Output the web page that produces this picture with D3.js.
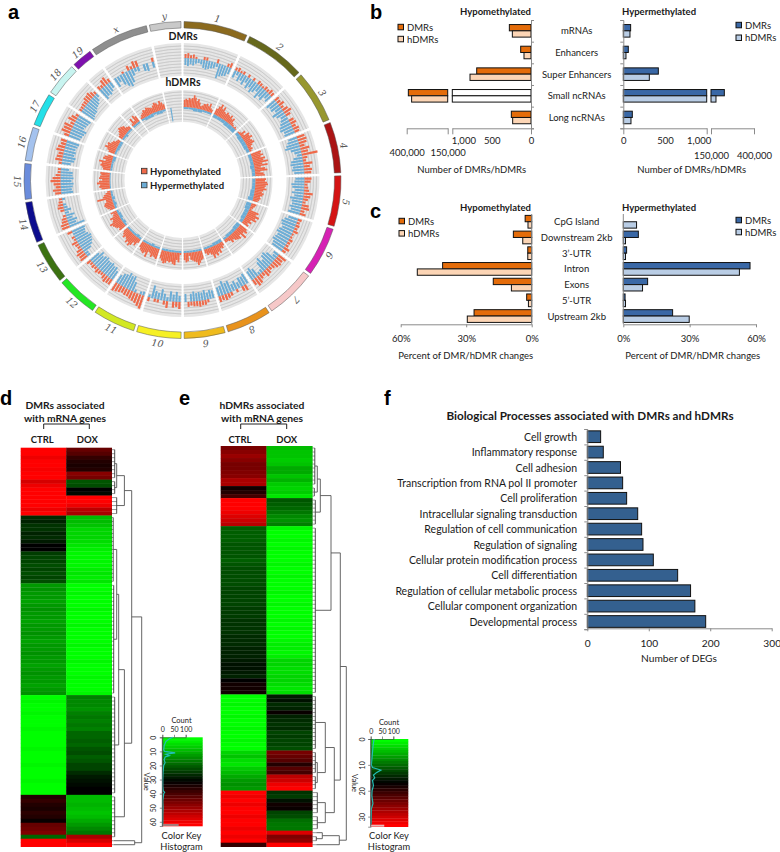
<!DOCTYPE html>
<html><head><meta charset="utf-8">
<style>
html,body{margin:0;padding:0;background:#fff}
svg{display:block}
text{font-family:Lato,"Open Sans",sans-serif;fill:#1a1a1a}
.panel{font-family:"Liberation Sans",Arial,sans-serif;font-weight:700;font-size:20px;fill:#000}
</style>
<script src="https://cdn.jsdelivr.net/npm/d3@7"></script>
</head><body><svg id="c" width="780" height="852"></svg>
<script>
// ---------- panel a data ----------
const chromNames=["1","2","3","4","5","6","7","8","9","10","11","12","13","14","15","16","17","18","19","x","y"];
const chromSpan=[23.4,22.2,19.2,18.6,18.5,18,18.5,16.4,15,16.3,15.5,15,15,15,13,12.3,12,12,7.5,21.4,11.5];
const chromColor=["#8b6a1e","#66681c","#97972f","#ab1414","#d41414","#d622b4","#f6c8c8","#e8921c","#efbb1c","#f6f024","#d2e824","#24e624","#3c7212","#0c0c8e","#6a8cdc","#a4c2ee","#24e0e8","#c8f4f0","#7e12ae","#8f8f8f","#c9c9c9"];
const dmrHypo=[
[4,5,3,4,2,0,0,3,3,0,0,0,4,0,0,0,3,5],[3,4,2,3,0,3,0,3,0,4,3,2,4,3,5,4],[5,4,6,3,6,8,5,0,5,6,4,6,5],
[8,9,8,5,9,7,16,5,3,9,6,8,7],[7,6,3,4,5,9,7,5,3,7,8,4,6],[4,3,4,3,5,2,2,4,3,3,6,4],
[9,7,8,7,5,4,6,7,4,5,8,9,6],[0,6,5,0,3,0,4,5,6,5,6],[0,0,3,5,5,6,5,5,4,5,0],
[7,5,6,0,7,4,0,3,3,0,4],[14,12,10,9,8,7,7,6,7,8,9],[6,6,7,5,3,4,5,3,4,3,5],
[8,7,8,6,3,4,6,2,3,0,5],[8,8,6,5,3,0,4,6,5,4,3],[6,8,5,7,10,8,5,3,3],
[3,7,6,5,8,7,5,6],[5,9,8,9,4,8,6,3],[3,3,4,4,6,6,7,5,3],[4,3,7,8,4],
[0,0,0,2,0,5,3,7,6,0,0,0,0,4],[]];
const dmrHyper=[
[7,8,6,7,5,4,5,8,9,8,7,6,4,15,12,11,10,7],[8,4,9,7,10,6,11,8,12,10,7,13,9,11,6,8],[11,9,10,7,12,9,6,8,10,12,13,10,11],
[9,11,13,15,10,7,5,9,12,13,11,12,10],[9,10,13,12,9,12,9,13,11,10,12,10,12],[10,13,15,14,12,14,15,13,14,15,13,12],
[6,5,11,14,13,9,14,11,4,3,9,12,10],[11,9,10,6,9,7,12,11,14,10,9],[8,9,7,10,8,9,8,10,8,0,8],
[6,10,7,10,4,7,11,7,8,13,3],[4,3,0,3,10,15,14,16,13,12,9],[10,13,12,14,13,13,15,14,12,15,11],
[4,4,9,12,14,15,16,14,12,13,14],[16,8,10,6,9,4,7,4,3,0,3],[12,11,12,13,11,13,12,12,8],
[9,12,13,11,12,11,12,13],[12,13,14,15,11,12,13,14],[15,14,13,13,11,10,9,7,4],[12,10,11,9,7],
[10,6,11,14,16,13,7,4,5,0,7,8,0,6],[]];
const hdmrHypo=[
[7,8,7,9,8,9,12,10,7,9,6,3,4,6,6,7,5,8,4,3],[6,9,12,8,11,7,6,8,7,6,8,5,7,3,2,1,2,1],[1,2,6,3,8,7,9,6,7,8,5,3,4,2],
[10,9,11,8,12,10,14,8,13,6,10,12,5,8,9],[10,9,11,12,10,9,11,8,7,9,8,6,7,6,5],[5,4,3,2,10,8,12,9,11,6,8,5,7],
[8,10,7,12,6,9,8,7,5,7,4,3,3],[4,6,5,9,7,10,8,11,7,5,6,4],[8,9,11,13,10,9,8,7,3,8,9,7],
[2,9,7,12,11,9,10,9,11,12,10,8],[10,9,8,10,7,6,12,8,10,9,8,6],[4,8,6,10,12,9,11,8,7,9,7,5],
[7,6,8,9,10,12,8,7,9,5,4,6],[5,7,8,9,8,6,6,14,8,7,5,3],[8,10,9,12,10,7,10,9,8,9],
[7,8,10,9,12,6,9,8,5],[6,8,11,9,10,7,6,4,3],[4,5,7,9,8,7,4,3],[2,7,3,8,6],
[2,4,5,7,6,8,7,6,5,7,9,8,6,9,7,5],[]];
const hdmrHyper=[
[2,2,3,3,2,2],[3,3,3,4,4,4],[3,4,4,4,4,3],[3,3,3,4,3,3],[3,3,3,4,4,5],[5,5,4,4,4,3],
[4,4,3,3,3,2],[3,3,3,2,2,2],[2,2,2,2,2,2],[2,2,2,2,2,2],[2,2,3,2,2,2],[2,3,2,2,2,2],
[2,3,2,3,3,2],[2,3,2,3,2,2],[1,1,1,1,1,1],[2,2,2,2,3,3],[2,2,3,3,3,3],[2,2,3,2,2,2],[2,2,2],
[2,3,3,3,2,3,3,2],[0,0,13,0,0,0,0,0,0,0,0]];
const legendA=["Hypomethylated","Hypermethylated"];
// ---------- panel b data ----------
const bCats=["mRNAs","Enhancers","Super Enhancers","Small ncRNAs","Long ncRNAs"];
const bHypoDMR=[275,131,690,390000,250];
const bHypoH=[237,89,775,370000,233];
const bHyperDMR=[88,60,420,227500,108];
const bHyperH=[80,32,312,179000,92];
// ---------- panel c data ----------
const cCats=["CpG Island","Downstream 2kb","3’-UTR","Intron","Exons","5’-UTR","Upstream 2kb"];
const cHypoDMR=[3,8.4,1.8,40.8,17.6,2.3,26.4];
const cHypoH=[1.7,4.1,1.8,52.4,9.3,1.5,29.5];
const cHyperDMR=[0,6.8,1.5,57.3,11,0.8,22.3];
const cHyperH=[6,1,1,52.5,8.7,1,29.8];
// ---------- panel d/e data (row values on the colour-key value scale, 0 green, 30 black, 60 red) ----------
const dCtrl=[60,60,58,60,60,59,60,60,55,58,60,60,60,60,60,58,60,
25,26,24,24,26,25,27,30,30,23,22,22,21,22,21,22,21,
12,13,12,12,11,12,13,12,12,11,12,12,13,12,11,12,12,13,12,12,11,12,13,12,12,11,12,13,
0,1,0,0,1,0,0,0,1,0,0,0,0,1,0,0,0,1,0,0,0,1,0,0,0,
34,36,34,33,35,34,31,42,43,45,18,60,60];
const dDox=[42,40,36,34,33,34,46,44,20,21,30,29,60,60,58,52,50,
8,8,7,5,5,5,4,3,2,1,1,1,1,2,3,2,3,
0,0,1,0,0,0,1,0,0,0,1,0,0,0,0,1,0,0,0,1,0,0,0,1,0,0,0,1,
15,14,14,13,15,16,15,16,15,18,18,19,18,20,21,19,20,22,22,25,27,28,29,30,30,
8,8,9,8,7,8,10,12,14,16,50,55,60];
const eCtrl=[44,46,48,46,44,44,45,46,50,50,32,34,38,60,60,60,58,56,54,52,
19,19,19,19,20,20,20,20,19,20,21,21,21,21,21,22,22,22,22,22,23,23,23,24,24,24,24,25,25,25,26,26,26,
27,28,28,27,26,30,32,32,32,
0,0,1,0,0,1,0,0,1,0,0,1,0,0,5,7,4,3,6,8,10,12,13,12,
60,58,60,58,60,60,58,60,60,58,60,58,60,36];
const eDox=[8,7,7,6,7,10,10,7,9,6,5,6,3,20,19,18,16,14,13,15,
1,0,0,1,0,1,0,0,0,1,0,0,1,0,0,0,1,0,0,1,0,0,0,1,0,1,0,0,1,2,2,1,2,
5,5,4,4,5,5,4,3,4,
27,28,25,26,31,26,25,24,25,22,23,22,22,21,44,42,40,34,40,38,52,54,58,60,
24,23,28,32,31,22,21,17,16,16,56,45,47,60];
const dTree={h:30,children:[
 {h:20,children:[
  {h:12.7,children:[{h:5,children:[{rows:[0,7],h:3},{rows:[8,11],h:3}]},{rows:[12,16],h:5}]},
  {h:12.7,children:[{h:7,children:[{h:5,children:[{rows:[17,33],h:1.5},{rows:[34,61],h:2}]},{rows:[62,86],h:3}]},{rows:[87,97],h:3}]}]},
 {h:23,children:[{rows:[98,98],h:2},{rows:[99,99],h:2}]}]};
const eTree={h:34,children:[
 {h:28,children:[
  {h:18.7,children:[{h:8,children:[{h:5,children:[{rows:[0,9],h:2.5},{rows:[10,12],h:2}]},{rows:[13,19],h:3}]},{rows:[20,61],h:3}]},
  {h:22,children:[{h:13,children:[{rows:[62,75],h:3},{h:5,children:[{rows:[76,81],h:3},{rows:[82,85],h:3}]}]},{h:13,children:[{rows:[86,91],h:5},{rows:[92,95],h:5}]}]}]},
 {h:27,children:[{h:10,children:[{rows:[96,96],h:4},{rows:[97,98],h:4}]},{rows:[99,99],h:4}]}]};
const dKeyTicks=[0,10,20,30,40,50,60];
const eKeyTicks=[0,10,20,30];
const countTicks=[0,50,100];
const dHistV=[0,1,3,6,9,10,11,12,13,14,16,18,20,25,30,35,38,39,40,45,50,55,60,63];
const dHistC=[45,30,15,8,6,10,55,15,30,12,8,12,6,3,2,2,4,10,6,2,3,2,2,1];
const eHistV=[0,3,5,8,10,11,12,13,14,15,16,18,20,22,25,27,30,33];
const eHistC=[15,10,8,5,3,8,45,25,12,18,8,12,6,5,10,3,2,1];
// ---------- panel f data ----------
const fCats=["Cell growth","Inflammatory response","Cell adhesion","Transcription from RNA pol II promoter","Cell proliferation","Intracellular signaling transduction","Regulation of cell communication","Regulation of signaling","Cellular protein modification process","Cell differentiation","Regulation of cellular metabolic process","Cellular component organization","Developmental process"];
const fVals=[21.7,26,54,57.5,64,82,88.4,90.6,107.4,147,168,175,192.6];

const ORANGE="#e46c0a",LORANGE="#fcd5b5",BLUE="#3a68a6",LBLUE="#b9cde5",RED="#ef6a4a",SKY="#6cadd6";
const svg=d3.select("#c");
const txt=(g,x,y,s,o={})=>{const t=g.append("text").attr("x",x).attr("y",y).text(s)
 .attr("font-size",o.size||9.5).attr("text-anchor",o.anchor||"middle").attr("dominant-baseline","central");
 if(o.bold)t.attr("font-weight",700); if(o.rot!==undefined)t.attr("transform",`rotate(${o.rot} ${x} ${y})`); if(o.fill)t.style("fill",o.fill);return t;};
const panelLabel=(s,x,y)=>svg.append("text").attr("class","panel").attr("x",x).attr("y",y).text(s);
panelLabel("a",8,19);panelLabel("b",370,19);panelLabel("c",370,218);panelLabel("d",0,405);panelLabel("e",179,405);panelLabel("f",384,405);

// ---------- panel a ----------
(function(){
 const g=svg.append("g").attr("transform","translate(182.5,180)");
 const rad=d=>d*Math.PI/180;
 const gap=(360-d3.sum(chromSpan))/chromSpan.length;
 let cur=gap/2;
 const chroms=chromSpan.map((s,i)=>{const c={i,a0:cur,a1:cur+s};cur+=s+gap;return c;});
 const arc=d3.arc();
 g.selectAll(".ideo").data(chroms).join("path").attr("d",c=>arc({innerRadius:152,outerRadius:158.5,startAngle:rad(c.a0),endAngle:rad(c.a1)}))
  .attr("fill",c=>chromColor[c.i]).attr("stroke","#555").attr("stroke-width",.5);
 chroms.forEach(c=>{const m=(c.a0+c.a1)/2,r=165,x=r*Math.sin(rad(m)),y=-r*Math.cos(rad(m));
  const rot=(m>=165&&m<280)?m-180:m;
  txt(g,x,y,chromNames[c.i],{size:9.5,rot,fill:"#555"}).style("font-family","'DejaVu Serif'").style("font-style","italic");});
 function ring(rIn,rOut,rBase,hypo,hyper,k,pad){
  const up=d3.scaleLinear([0,16],[rBase,rBase+16*k]),dn=d3.scaleLinear([0,16],[rBase,rBase-16*k]);
  chroms.forEach(c=>{
   const sec=g.append("g");
   sec.append("path").attr("d",arc({innerRadius:rIn,outerRadius:rOut,startAngle:rad(c.a0),endAngle:rad(c.a1)})).attr("fill","#e6e6e6");
   d3.range(rIn+3,rOut,3).forEach(r=>sec.append("path").attr("d",d3.arc()({innerRadius:r,outerRadius:r,startAngle:rad(c.a0),endAngle:rad(c.a1)})).attr("fill","none").attr("stroke","#c4c4c4").attr("stroke-width",.55));
   const draw=(vals,scale,col)=>{ if(!vals[c.i].length)return;
    const bx=d3.scaleBand(d3.range(vals[c.i].length),[c.a0+.4,c.a1-.4]).paddingInner(pad);
    vals[c.i].forEach((v,j)=>{ if(!v)return; const a=scale(0),b=scale(v);
     sec.append("path").attr("d",arc({innerRadius:Math.min(a,b),outerRadius:Math.max(a,b),startAngle:rad(bx(j)),endAngle:rad(bx(j)+bx.bandwidth())})).attr("fill",col);});};
   draw(hyper,dn,SKY);draw(hypo,up,RED);
  });
 }
 ring(104,137,122,dmrHypo,dmrHyper,1,.3);
 ring(58,90,73,hdmrHypo,hdmrHyper,1.05,0);
 txt(g,0.5,-144,"DMRs",{bold:true,size:10.5});
 txt(g,0.5,-98,"hDMRs",{bold:true,size:10.5});
 legendA.forEach((s,i)=>{const y=-9+i*14;
  g.append("rect").attr("x",-41).attr("y",y-2.7).attr("width",5.5).attr("height",5.5).attr("fill",i?SKY:RED).attr("stroke","#333").attr("stroke-width",.8);
  txt(g,-32.5,y,s,{bold:true,anchor:"start",size:9.5});});
})();

function styleAxis(a){a.selectAll("path,line").attr("stroke","#8a8a8a").attr("stroke-width",1);a.selectAll("text").attr("font-size",9.5).style("font-family","Lato");}
function bar(g,x0,x1,y,h,fill){ if(x0===x1)return;
 g.append("rect").attr("x",Math.min(x0,x1)).attr("width",Math.abs(x1-x0)).attr("y",y).attr("height",h).attr("fill",fill).attr("stroke","#111").attr("stroke-width",1);}
function legend(x,ys,cols){["DMRs","hDMRs"].forEach((s,i)=>{
 svg.append("rect").attr("x",x).attr("y",ys[i]-2.7).attr("width",5.5).attr("height",5.5).attr("fill",cols[i]).attr("stroke","#111");
 txt(svg,x+9,ys[i],s,{anchor:"start"});});}
const sub=["DMR","hDMR"];

// ---------- panel b ----------
(function(){
 const y=d3.scaleBand(bCats,[20,128.3]).paddingInner(.42).paddingOuter(.21);
 const s=d3.scaleBand(sub,[0,y.bandwidth()]);
 const lLow=d3.scaleLinear([0,1000],[531,452.3]),lHigh=d3.scaleLinear([150000,400000],[447.7,406.7]);
 const rLow=d3.scaleLinear([0,1000],[623.3,706.7]),rHigh=d3.scaleLinear([150000,400000],[711,754]);
 const draw=(vals,low,high,key,col,mid)=>vals.forEach((v,i)=>{const yy=y(bCats[i])+s(key);
  if(v<=1000)bar(svg,low(0),low(v),yy,s.bandwidth(),col);
  else{bar(svg,low(0),low(1000),yy,s.bandwidth(),mid);bar(svg,high(150000),high(v),yy,s.bandwidth(),col);}});
 draw(bHypoDMR,lLow,lHigh,"DMR",ORANGE,"#fff");draw(bHypoH,lLow,lHigh,"hDMR",LORANGE,"#fff");
 draw(bHyperDMR,rLow,rHigh,"DMR",BLUE,BLUE);draw(bHyperH,rLow,rHigh,"hDMR",LBLUE,LBLUE);
 bCats.forEach(c=>txt(svg,576.7,y(c)+y.bandwidth()/2,c));
 const cat=d3.scaleLinear([0,bCats.length],[20,128.3]);
 styleAxis(svg.append("g").attr("transform","translate(531,0)").call(d3.axisRight(cat).ticks(5).tickSize(3).tickFormat("")));
 styleAxis(svg.append("g").attr("transform","translate(623.3,0)").call(d3.axisLeft(cat).ticks(5).tickSize(3).tickFormat("")));
 const ax=(scale,vals,dx,yAxis)=>{const a=svg.append("g").attr("transform","translate(0,128.3)").call(d3.axisBottom(scale).tickValues(vals).tickSize(6).tickSizeOuter(0).tickFormat(d3.format(",")));
  styleAxis(a);a.selectAll(".tick text").attr("dy",null).attr("dominant-baseline","central").attr("y",yAxis).attr("dx",(d,i)=>dx[i]);
  a.selectAll(".tick").filter(d=>d===500).select("line").remove();};
 ax(lLow,[0,500,1000],[0,0,11],12.5);ax(lHigh,[150000,400000],[0,0],24.7);
 ax(rLow,[0,500,1000],[0,0,-8],12.5);ax(rHigh,[150000,400000],[0,0],27.7);
 txt(svg,495.5,11,"Hypomethylated",{bold:true});txt(svg,659,11,"Hypermethylated",{bold:true});
 txt(svg,471.7,169,"Number of DMRs/hDMRs");txt(svg,691.7,169,"Number of DMRs/hDMRs");
 legend(398,[27,39],[ORANGE,LORANGE]);legend(736,[25,37.7],[BLUE,LBLUE]);
})();

// ---------- panel c ----------
(function(){
 const y=d3.scaleBand(cCats,[213.9,323.9]).paddingInner(.19).paddingOuter(.095);
 const s=d3.scaleBand(sub,[0,y.bandwidth()]);
 const l=d3.scaleLinear([0,60],[531.7,400.7]),r=d3.scaleLinear([0,60],[623.3,756]);
 const draw=(vals,sc,key,col)=>vals.forEach((v,i)=>bar(svg,sc(0),sc(v),y(cCats[i])+s(key),s.bandwidth(),col));
 draw(cHypoDMR,l,"DMR",ORANGE);draw(cHypoH,l,"hDMR",LORANGE);draw(cHyperDMR,r,"DMR",BLUE);draw(cHyperH,r,"hDMR",LBLUE);
 cCats.forEach(c=>txt(svg,576.7,y(c)+y.bandwidth()/2,c));
 [[l,531.7],[r,623.3]].forEach(([sc,x])=>{
  const a=svg.append("g").attr("transform","translate(0,324.3)").call(d3.axisBottom(sc).tickValues([0,30,60]).tickSize(3).tickSizeOuter(0).tickFormat(d=>d+"%"));
  styleAxis(a);a.selectAll(".tick text").attr("y",14).attr("dy",null).attr("dominant-baseline","central");
  svg.append("line").attr("x1",x).attr("x2",x).attr("y1",214).attr("y2",324.3).attr("stroke","#8a8a8a");});
 txt(svg,495.5,207,"Hypomethylated",{bold:true});txt(svg,659,207,"Hypermethylated",{bold:true});
 txt(svg,465.7,355,"Percent of DMR/hDMR changes");txt(svg,692.7,355,"Percent of DMR/hDMR changes");
 legend(399,[221,233.3],[ORANGE,LORANGE]);legend(736,[220,232],[BLUE,LBLUE]);
})();

// ---------- panels d, e ----------
const heatColor=d3.scaleLinear([0,30,60],["#00ff00","#000000","#ff0000"]);
function heat(o){
 const n=o.ctrl.length, y=d3.scaleBand(d3.range(n),[o.y0,o.y1]);
 const cols=d3.scaleBand(["CTRL","DOX"],[o.x0,o.x1]);
 [[o.ctrl,"CTRL"],[o.dox,"DOX"]].forEach(([vals,k])=>svg.append("g").selectAll("rect").data(vals).join("rect")
   .attr("x",cols(k)).attr("width",cols.bandwidth()+.3).attr("y",(d,i)=>y(i)).attr("height",y.bandwidth()+.3).attr("fill",d=>heatColor(d)));
 txt(svg,o.tx,404.5,o.title,{bold:true,size:10.3});txt(svg,o.tx,417.5,"with mRNA genes",{bold:true,size:10.3});
 svg.append("path").attr("d",d3.line()([[o.b0,429],[o.b0,424],[o.b1,424],[o.b1,429]])).attr("fill","none").attr("stroke","#222");
 txt(svg,o.cx[0],439,"CTRL",{bold:true,size:9.5});txt(svg,o.cx[1],439,"DOX",{bold:true,size:9.5});
 const root=d3.hierarchy(o.tree);
 const hx=d3.scaleLinear([0,30],[o.x1,o.x1+30]);
 const dg=svg.append("g").attr("fill","none");
 const ln=(a,b,c,d,w,col)=>dg.append("line").attr("x1",a).attr("y1",b).attr("x2",c).attr("y2",d).attr("stroke",col).attr("stroke-width",w);
 root.eachAfter(nd=>{const d=nd.data;
  if(d.rows){
   const ya=y(d.rows[0])+y.bandwidth()/2,yb=y(d.rows[1])+y.bandwidth()/2;
   nd.yy=(ya+yb)/2;
   d3.range(d.rows[0],d.rows[1]+1).forEach(r=>ln(hx(0),y(r)+y.bandwidth()/2,hx(d.h),y(r)+y.bandwidth()/2,.5,"#333"));
   ln(hx(d.h),ya,hx(d.h),yb,.8,"#222");
  }else{
   const ys=nd.children.map(c=>c.yy);
   nd.yy=(ys[0]+ys[ys.length-1])/2;
   ln(hx(d.h),ys[0],hx(d.h),ys[ys.length-1],.9,"#555");
   nd.children.forEach(c=>ln(hx(c.data.h),c.yy,hx(d.h),c.yy,.9,"#555"));
  }});
 const k=o.key, vy=d3.scaleLinear([0,k.max],[k.y0,k.y1]);
 const steps=d3.range(0,32);
 const ky=d3.scaleBand(steps,[k.y0,k.y1]);
 svg.append("g").selectAll("rect").data(steps).join("rect").attr("x",k.x0).attr("width",k.x1-k.x0).attr("y",d=>ky(d)).attr("height",ky.bandwidth()+.3)
  .attr("fill",d=>heatColor(d/31*60));
 const cnt=d3.scaleLinear([0,100],[k.x0,k.c100]);
 styleKey(svg.append("g").attr("transform",`translate(0,${k.y0})`).call(d3.axisTop(cnt).tickValues(countTicks).tickSize(2.5)),"top");
 styleKey(svg.append("g").attr("transform",`translate(${k.x0},0)`).call(d3.axisLeft(vy).tickValues(k.ticks).tickSize(2.5)),"left");
 txt(svg,k.cx,k.y0-17,"Count",{size:7.5});
 txt(svg,k.vx,k.vy,"Value",{size:7.5,rot:90});
 txt(svg,k.cx,835.3,"Color Key",{size:9.3});txt(svg,k.cx,846,"Histogram",{size:9.3});
 svg.append("path").datum(d3.zip(k.hv,k.hc)).attr("d",d3.line().x(d=>cnt(d[1])).y(d=>vy(d[0]))).attr("fill","none").attr("stroke","#22bfb6").attr("stroke-width",1.2);
 svg.append("rect").attr("x",k.x0).attr("y",k.y1-2).attr("width",cnt(k.barC)-k.x0).attr("height",2).attr("fill",k.barCol);
 svg.append("line").attr("x1",k.x0).attr("x2",k.x0).attr("y1",k.y0).attr("y2",k.y1).attr("stroke","#444").attr("stroke-width",.7);
}
function styleKey(a,side){a.selectAll("path,line").attr("stroke","#444").attr("stroke-width",.6);
 a.selectAll("text").attr("font-size",7).style("font-family","Lato");
 if(side==="left")a.selectAll(".tick text").attr("transform",function(){return `rotate(-90 ${this.getAttribute("x")||-5} 0)`;}).attr("text-anchor","middle").attr("dy","-0.1em");}
heat({ctrl:dCtrl,dox:dDox,x0:20.7,x1:111.7,y0:447.7,y1:846.7,tree:dTree,title:"DMRs associated",tx:65,b0:43.7,b1:89.3,cx:[42.3,87.3],
 key:{x0:162.3,x1:202.7,y0:737.3,y1:826,max:63,ticks:dKeyTicks,c100:185.7,cx:181.5,vx:146.7,vy:781.7,hv:dHistV,hc:dHistC,barC:70,barCol:"#a77a7a"}});
heat({ctrl:eCtrl,dox:eDox,x0:220.7,x1:312.3,y0:446,y1:846.7,tree:eTree,title:"hDMRs associated",tx:262,b0:240.7,b1:286.7,cx:[240,286.7],
 key:{x0:370.7,x1:408.3,y0:739,y1:826.7,max:33.9,ticks:eKeyTicks,c100:393.3,cx:389,vx:354,vy:783,hv:eHistV,hc:eHistC,barC:60,barCol:"#e9b4b4"}});

// ---------- panel f ----------
(function(){
 const x=d3.scaleLinear([0,300],[587.3,771.7]);
 const y=d3.scaleBand(fCats,[429,629.2]).paddingInner(.24).paddingOuter(.12);
 fVals.forEach((v,i)=>bar(svg,x(0),x(v),y(fCats[i]),y.bandwidth(),"#34608f"));
 fCats.forEach(c=>txt(svg,577,y(c)+y.bandwidth()/2,c,{anchor:"end",size:10.5}));
 const a=svg.append("g").attr("transform","translate(0,628.3)").call(d3.axisBottom(x).tickValues([0,100,200,300]).tickSize(3).tickSizeOuter(0));
 styleAxis(a);a.selectAll(".tick text").attr("y",15).attr("dy",null).attr("dominant-baseline","central").attr("font-size",10.2);
 const cat=d3.scaleLinear([0,fCats.length],[429,629.2]);
 styleAxis(svg.append("g").attr("transform","translate(587.3,0)").call(d3.axisLeft(cat).ticks(13).tickSize(3).tickFormat("")));
 txt(svg,590,415,"Biological Processes associated with DMRs and hDMRs",{bold:true,size:11.7});
 txt(svg,679,658,"Number of DEGs",{size:10.2});
})();
</script></body></html>
